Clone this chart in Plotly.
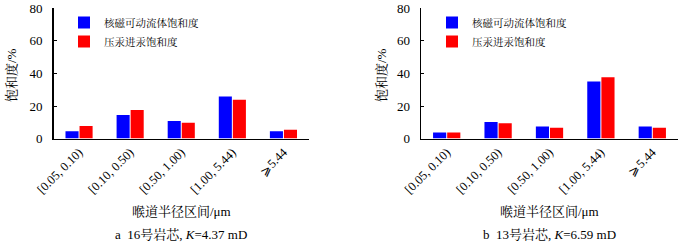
import plotly.graph_objects as go

categories = ["[0.05, 0.10)", "[0.10, 0.50)", "[0.50, 1.00)", "[1.00, 5.44)", "⩾5.44"]
series_names = ["核磁可动流体饱和度", "压汞进汞饱和度"]
core16_nmr = [4.5, 14.5, 10.8, 25.8, 4.5]
core16_hg = [7.8, 17.6, 9.8, 23.8, 5.5]
core13_nmr = [3.8, 10.2, 7.4, 35.0, 7.4]
core13_hg = [3.8, 9.5, 6.6, 37.6, 6.6]
yticks = [0, 20, 40, 60, 80]
x_title = "喉道半径区间/μm"
y_title = "饱和度/%"
captions = ["a  16号岩芯, <i>K</i>=4.37 mD", "b  13号岩芯, <i>K</i>=6.59 mD"]

W, H = 684, 242
FONT = "Liberation Serif, Noto Serif CJK SC, Noto Sans CJK SC, serif"
BLUE, RED = "#0000ff", "#ff0000"

fig = go.Figure()
panels = [(core16_nmr, core16_hg, "x", "y", "legend"), (core13_nmr, core13_hg, "x2", "y2", "legend2")]
for nmr, hg, xa, ya, lg in panels:
    fig.add_trace(go.Bar(x=categories, y=nmr, name=series_names[0], marker=dict(color=BLUE, line=dict(width=0)),
                         xaxis=xa, yaxis=ya, legend=lg))
    fig.add_trace(go.Bar(x=categories, y=hg, name=series_names[1], marker=dict(color=RED, line=dict(width=0)),
                         xaxis=xa, yaxis=ya, legend=lg))

def px(v):
    return v / W

def py(v):
    return 1 - v / H

xdoms = [[px(53.5), px(309)], [px(421), px(678)]]
ydom = [py(138.6), py(8.3)]

axis_common_x = dict(showline=True, linecolor="black", linewidth=1.5, ticks="", tickangle=-45,
                     tickfont=dict(family=FONT, size=12.5, color="black"), showgrid=False, zeroline=False,
                     automargin=False)
axis_common_y = dict(range=[0, 80], tickvals=yticks, showline=True, linecolor="black", linewidth=1.5,
                     ticks="inside", ticklen=3, tickwidth=1, tickcolor="black",
                     tickfont=dict(family=FONT, size=13, color="black"), showgrid=False, zeroline=False,
                     ticklabelstandoff=7, automargin=False)

fig.update_layout(
    width=W, height=H,
    margin=dict(l=0, r=0, t=0, b=0, autoexpand=False),
    paper_bgcolor="white", plot_bgcolor="white",
    barmode="group", bargap=0.45, bargroupgap=0.07,
    font=dict(family=FONT, color="black"),
    hovermode=False,
    xaxis=dict(domain=xdoms[0], anchor="y", **axis_common_x),
    yaxis=dict(domain=ydom, anchor="x", **axis_common_y),
    xaxis2=dict(domain=xdoms[1], anchor="y2", **axis_common_x),
    yaxis2=dict(domain=ydom, anchor="x2", **axis_common_y),
    legend=dict(x=px(64), y=py(8), xanchor="left", yanchor="top", bgcolor="rgba(0,0,0,0)",
                font=dict(family=FONT, size=10.5, color="black"), itemclick=False, tracegroupgap=0),
    legend2=dict(x=px(432), y=py(8), xanchor="left", yanchor="top", bgcolor="rgba(0,0,0,0)",
                 font=dict(family=FONT, size=10.5, color="black"), itemclick=False, tracegroupgap=0),
)

annots = []
centers = [(53.5 + 309) / 2, (421 + 678) / 2]
ytitle_x = [12, 382]
for i, c in enumerate(centers):
    annots.append(dict(text=x_title, x=px(c), y=py(211), xref="paper", yref="paper", showarrow=False,
                       xanchor="center", yanchor="middle", font=dict(family=FONT, size=13, color="black")))
    annots.append(dict(text=captions[i], x=px(c), y=py(234), xref="paper", yref="paper", showarrow=False,
                       xanchor="center", yanchor="middle", font=dict(family=FONT, size=13, color="black")))
    annots.append(dict(text=y_title, x=px(ytitle_x[i]), y=py(75), xref="paper", yref="paper", showarrow=False,
                       xanchor="center", yanchor="middle", textangle=-90,
                       font=dict(family=FONT, size=13, color="black")))
fig.update_layout(annotations=annots)

fig.write_html("out.html", config={"displayModeBar": False, "staticPlot": True})
with open("out.html", "r", encoding="utf-8") as f:
    html = f.read()
html = html.replace("<body>", '<body style="margin:0;padding:0;overflow:hidden">', 1)
html = html.replace("<head>", '<head><style>html,body{margin:0;padding:0;}</style>', 1)
with open("out.html", "w", encoding="utf-8") as f:
    f.write(html)
